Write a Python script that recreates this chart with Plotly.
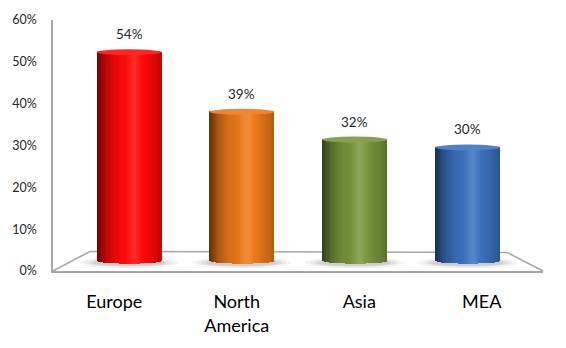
import math
import plotly.graph_objects as go

# ---- data ----
categories = ["Europe", "North America", "Asia", "MEA"]
values = [54, 39, 32, 30]          # percent
bar_colors = [(255, 8, 8), (234, 120, 24), (118, 148, 60), (58, 112, 190)]
y_ticks = [0, 10, 20, 30, 40, 50, 60]
y_tick_labels = [f"{t}%" for t in y_ticks]

# ---- style constants ----
N_STRIPS = 40
BAR_W = 0.576          # in x2 units
BASE_C = 1.375         # centre of bottom ellipse (y2 units)
EH = 0.75              # half height of ellipses (y2 units)
FONT = "Lato, 'Open Sans', sans-serif"

profile = [(0.0, 0.42), (0.06, 0.55), (0.15, 0.75), (0.3, 0.92), (0.5, 1.0),
           (0.6, 1.03), (0.75, 0.97), (0.9, 0.86), (1.0, 0.76)]


def mult_at(t):
    for (t0, m0), (t1, m1) in zip(profile[:-1], profile[1:]):
        if t0 <= t <= t1:
            return m0 + (m1 - m0) * (t - t0) / (t1 - t0)
    return profile[-1][1]


def shade(rgb, t):
    m = mult_at(t)
    h = 0.13 * math.exp(-((t - 0.58) / 0.09) ** 2)
    out = []
    for c in rgb:
        v = c * m
        v = v + (255 - v) * h
        out.append(int(max(0, min(255, round(v)))))
    return "rgb(%d,%d,%d)" % tuple(out)


def mix_white(rgb, a):
    return "rgb(%d,%d,%d)" % tuple(int(c + (255 - c) * a) for c in rgb)


xpos = list(range(len(categories)))

fig = go.Figure()

# dummy trace to keep the main axes
fig.add_trace(go.Scatter(x=xpos, y=[0] * len(xpos), mode="markers",
                         marker=dict(opacity=0), hoverinfo="skip",
                         showlegend=False, xaxis="x", yaxis="y"))

dw = BAR_W / N_STRIPS
for k in range(N_STRIPS):
    t = (k + 0.5) / N_STRIPS
    u = 2 * t - 1
    bottom = BASE_C - EH * math.sqrt(max(0.0, 1 - u * u))
    off = -BAR_W / 2 + k * dw
    width = min(dw * 1.7, BAR_W / 2 - off)
    fig.add_trace(go.Bar(
        x=xpos,
        y=[v - bottom for v in values],
        base=[bottom] * len(values),
        offset=off,
        width=width,
        marker=dict(color=[shade(c, t) for c in bar_colors], line=dict(width=0)),
        hoverinfo="skip", showlegend=False,
        xaxis="x2", yaxis="y2",
    ))

shapes = []
# shadows under cylinders
for i in xpos:
    for hw, hh, op in [(0.44, 1.5, 0.06), (0.40, 1.25, 0.08), (0.36, 1.0, 0.10), (0.32, 0.8, 0.14)]:
        cy = BASE_C - 0.4
        shapes.append(dict(type="circle", xref="x2", yref="y2",
                           x0=i - hw, x1=i + hw, y0=cy - hh, y1=cy + hh,
                           fillcolor="rgb(110,110,110)", opacity=op,
                           line=dict(width=0), layer="below"))
# top caps
for i, v, c in zip(xpos, values, bar_colors):
    shapes.append(dict(type="circle", xref="x2", yref="y2",
                       x0=i - BAR_W / 2, x1=i + BAR_W / 2, y0=v - EH, y1=v + EH,
                       fillcolor=mix_white(c, 0.12), line=dict(width=0), layer="above"))

# floor (paper coords)
floor_col = "#a6a6a6"
bx0, by0 = 0.0755, 0.078
bx1, by1 = 0.9265, 0.074
shapes.append(dict(type="line", xref="paper", yref="paper", x0=0, y0=0, x1=bx0, y1=by0,
                   line=dict(color=floor_col, width=1.5), layer="below"))
shapes.append(dict(type="line", xref="paper", yref="paper", x0=bx0, y0=by0, x1=bx1, y1=by1,
                   line=dict(color=floor_col, width=1.5), layer="below"))
shapes.append(dict(type="line", xref="paper", yref="paper", x0=bx1, y0=by1, x1=1, y1=0,
                   line=dict(color=floor_col, width=1.5), layer="below"))

annotations = []
for i, v in zip(xpos, values):
    annotations.append(dict(x=i, y=v, xref="x2", yref="y2", text=f"{v}%",
                            showarrow=False, yshift=18,
                            font=dict(family=FONT, size=13.5, color="#262626")))

fig.update_layout(
    width=566, height=348,
    margin=dict(l=53, r=23, t=20, b=75),
    paper_bgcolor="white",
    plot_bgcolor="rgba(0,0,0,0)",
    barmode="overlay",
    bargap=0,
    showlegend=False,
    shapes=shapes,
    annotations=annotations,
    font=dict(family=FONT),
    xaxis=dict(range=[-0.5, 3.5], tickvals=xpos,
               ticktext=[c.replace(" ", "<br>") for c in categories],
               showline=True, linecolor=floor_col, linewidth=1.5,
               showgrid=False, zeroline=False,
               ticks="outside", ticklen=0, ticklabelstandoff=14,
               tickfont=dict(family=FONT, size=18, color="#000000")),
    yaxis=dict(range=[0, 60], tickvals=y_ticks, ticktext=y_tick_labels,
               showline=True, linecolor=floor_col, linewidth=1.5,
               showgrid=False, zeroline=False,
               ticks="outside", ticklen=0, ticklabelstandoff=12,
               tickfont=dict(family=FONT, size=12.5, color="#262626")),
    xaxis2=dict(range=[-0.674, 3.670], domain=[0, 1], anchor="y2",
                visible=False, showgrid=False),
    yaxis2=dict(range=[-1.125, 60], domain=[0, 0.9664], anchor="x2",
                visible=False, showgrid=False),
)

fig.write_html("out.html")
